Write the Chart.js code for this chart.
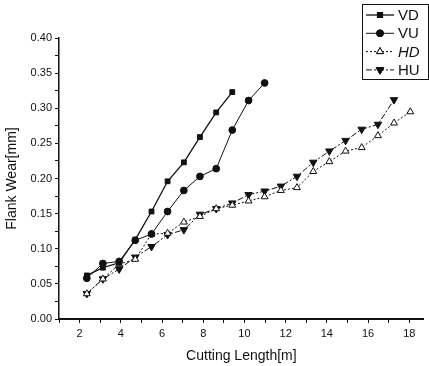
<!DOCTYPE html>
<html>
<head>
<meta charset="utf-8">
<script src="https://cdn.jsdelivr.net/npm/chart.js@4/dist/chart.umd.min.js"></script>
<style>
  html, body { margin: 0; padding: 0; background: #fff; }
  #wrap { width: 429px; height: 366px; position: relative; }
</style>
</head>
<body>
<div id="wrap"><canvas id="wearChart"></canvas></div>
<script>
// cutting length [m] at each measurement
const cuttingLength = [2.35, 3.13, 3.92, 4.7, 5.49, 6.27, 7.06, 7.84, 8.63, 9.41, 10.2,
  10.98, 11.77, 12.55, 13.34, 14.12, 14.91, 15.69, 16.48, 17.26, 18.05];

// flank wear [mm] per series
const wearVD = [0.062, 0.073, 0.080, 0.113, 0.153, 0.196, 0.223, 0.259, 0.294, 0.323];
const wearVU = [0.058, 0.079, 0.082, 0.112, 0.121, 0.153, 0.183, 0.203, 0.214, 0.269, 0.311, 0.336];
const wearHD = [0.036, 0.057, 0.078, 0.085, 0.121, 0.122, 0.138, 0.146, 0.157, 0.162, 0.168,
  0.174, 0.183, 0.187, 0.210, 0.224, 0.239, 0.244, 0.261, 0.279, 0.295];
const wearHU = [0.036, 0.057, 0.071, 0.088, 0.103, 0.120, 0.127, 0.149, 0.157, 0.165, 0.177,
  0.182, 0.189, 0.203, 0.223, 0.239, 0.254, 0.270, 0.277, 0.312];

const xTicks = [2, 4, 6, 8, 10, 12, 14, 16, 18];
const yTicks = [0.00, 0.05, 0.10, 0.15, 0.20, 0.25, 0.30, 0.35, 0.40];

const ink = '#111';
const pts = (ys) => ys.map((y, i) => ({ x: cuttingLength[i], y: y }));

const seriesStyle = [
  { label: 'VD', data: wearVD, style: 'rect', fill: ink, dash: [], width: 1.3, r: 3.4, rot: 0, italic: false },
  { label: 'VU', data: wearVU, style: 'circle', fill: ink, dash: [], width: 1, r: 3.4, rot: 0, italic: false },
  { label: 'HD', data: wearHD, style: 'triangle', fill: '#fff', dash: [2, 2], width: 1, r: 4, rot: 0, italic: true },
  { label: 'HU', data: wearHU, style: 'triangle', fill: ink, dash: [6, 2, 2, 2], width: 1, r: 4.3, rot: 180, italic: false },
];

// legend box drawn in the top right corner, like the original figure
const boxLegend = {
  id: 'boxLegend',
  afterDraw(chart) {
    const ctx = chart.ctx;
    const x0 = 362, y0 = 4, w = 66, h = 75;
    ctx.save();
    ctx.strokeStyle = ink;
    ctx.lineWidth = 1;
    ctx.strokeRect(x0 + 0.5, y0 + 0.5, w, h);
    chart.data.datasets.forEach((ds, i) => {
      const s = seriesStyle[i];
      const y = y0 + 11 + i * 18.3;
      ctx.beginPath();
      ctx.setLineDash(s.dash);
      ctx.lineWidth = s.width;
      ctx.strokeStyle = ink;
      ctx.moveTo(x0 + 4, y);
      ctx.lineTo(x0 + 32, y);
      ctx.stroke();
      ctx.setLineDash([]);
      Chart.helpers.drawPoint(ctx, {
        pointStyle: s.style, radius: s.r, rotation: s.rot, borderWidth: 1
      }, x0 + 18, y);
      ctx.fillStyle = s.fill;
      ctx.fill();
      ctx.stroke();
      ctx.fillStyle = ink;
      ctx.font = (s.italic ? 'italic ' : '') + '15px "Liberation Sans", Arial, sans-serif';
      ctx.textBaseline = 'middle';
      ctx.fillText(ds.label, x0 + 36, y + 1);
    });
    ctx.restore();
  }
};

new Chart(document.getElementById('wearChart'), {
  type: 'line',
  data: {
    datasets: seriesStyle.map((s) => ({
      label: s.label,
      data: pts(s.data),
      borderColor: ink,
      borderWidth: s.width,
      borderDash: s.dash,
      pointStyle: s.style,
      pointRadius: s.r,
      pointRotation: s.rot,
      pointBackgroundColor: s.fill,
      pointBorderColor: ink,
      pointBorderWidth: 1,
      tension: 0,
    })),
  },
  options: {
    responsive: true,
    maintainAspectRatio: false,
    animation: false,
    layout: { padding: { top: 38, right: 1, left: 0, bottom: 0 } },
    plugins: { legend: { display: false }, tooltip: { enabled: false } },
    scales: {
      x: {
        type: 'linear',
        min: 1,
        max: 18.7,
        afterFit: (scale) => { scale.height = 47; },
        afterBuildTicks: (scale) => {
          const t = [];
          for (let v = 1; v <= 18; v++) t.push({ value: v });
          scale.ticks = t;
        },
        ticks: {
          color: ink,
          font: { family: '"Liberation Sans", Arial, sans-serif', size: 11 },
          padding: 4,
          maxRotation: 0,
          autoSkip: false,
          callback: (v) => (xTicks.includes(v) ? String(v) : ''),
        },
        grid: {
          drawOnChartArea: false,
          tickLength: 4,
          tickColor: ink,
        },
        border: { color: ink, width: 2 },
        title: {
          display: true,
          text: 'Cutting Length[m]',
          color: ink,
          font: { family: '"Liberation Sans", Arial, sans-serif', size: 14 },
          padding: { top: 2, bottom: 1 },
        },
      },
      y: {
        min: 0,
        max: 0.4,
        afterFit: (scale) => { scale.width = 59; },
        afterBuildTicks: (scale) => {
          const t = [];
          for (let k = 0; k <= 16; k++) t.push({ value: k * 0.025 });
          scale.ticks = t;
        },
        ticks: {
          color: ink,
          font: { family: '"Liberation Sans", Arial, sans-serif', size: 11 },
          padding: 3,
          autoSkip: false,
          callback: (v) => {
            const hit = yTicks.find((t) => Math.abs(t - v) < 1e-6);
            return hit === undefined ? '' : hit.toFixed(2);
          },
        },
        grid: {
          drawOnChartArea: false,
          tickLength: 4,
          tickColor: ink,
        },
        border: { color: ink, width: 1.5 },
        title: {
          display: true,
          text: 'Flank Wear[mm]',
          color: ink,
          font: { family: '"Liberation Sans", Arial, sans-serif', size: 14 },
          padding: { top: 4, bottom: 4 },
        },
      },
    },
  },
  plugins: [boxLegend],
});
</script>
</body>
</html>
